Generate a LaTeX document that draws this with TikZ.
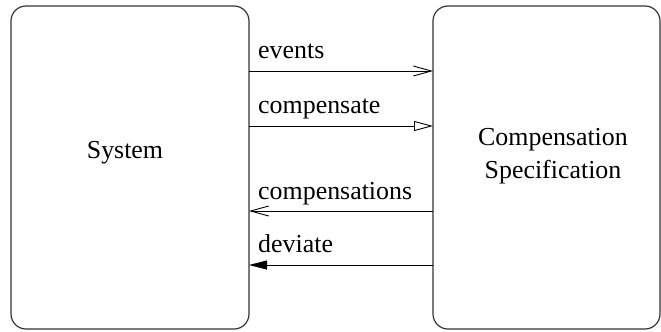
\documentclass[tikz,border=0pt]{standalone}
\usepackage{fontspec}
\setmainfont{Liberation Serif}
\usetikzlibrary{arrows.meta}
\begin{document}
\begin{tikzpicture}[x=1bp,y=-1bp,
  block/.style={draw=black!80, line width=1.2bp, rounded corners=15bp},
  flow/.style={draw=black, line width=0.9bp},
  lbl/.style={anchor=base west, inner sep=0pt, font=\fontsize{26}{30}\selectfont},
  txt/.style={inner sep=0pt, align=center, font=\fontsize{26}{33}\selectfont},
  barb/.style={-{Straight Barb[length=18bp,width=10bp,line width=0.9bp]}},
  hollow/.style={-{Triangle[open,length=19bp,width=10bp,line width=0.9bp]}},
  solid/.style={-{Triangle[length=18bp,width=9bp]}}]
  \useasboundingbox (0,0) rectangle (661,331);
  % the two components
  \draw[block] (11,6) rectangle (249,329);
  \draw[block] (433,6) rectangle (660,329);
  \coordinate (sysE) at (249,0);
  \coordinate (specW) at (433,0);
  \node[txt, anchor=base] (sys) at (125,158) {System};
  \node[txt] (spec) at (553,156) {Compensation\\Specification};
  % interactions between System and the specification
  \coordinate (a1) at (249,71);  \coordinate (b1) at (433,71);
  \coordinate (a2) at (249,126); \coordinate (b2) at (433,126);
  \coordinate (a3) at (249,211); \coordinate (b3) at (433,211);
  \coordinate (a4) at (249,265); \coordinate (b4) at (433,265);
  \draw[flow, barb] (a1) -- (b1);
  \draw[flow, hollow] (a2) -- (b2);
  \draw[flow, barb] (b3) -- (a3);
  \draw[flow, solid] (b4) -- (a4);
  \node[lbl] (l1) at (258,58) {events};
  \node[lbl] (l2) at (258,113) {compensate};
  \node[lbl] (l3) at (258,199) {compensations};
  \node[lbl] (l4) at (258,252) {deviate};
\end{tikzpicture}
\end{document}
